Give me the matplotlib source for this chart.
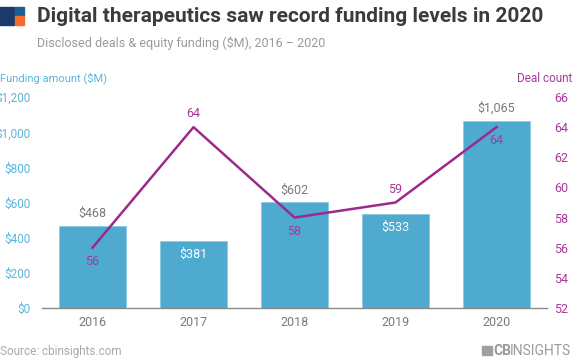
import matplotlib
matplotlib.use("Agg")
import matplotlib.pyplot as plt
from matplotlib.patches import Rectangle

years = ["2016", "2017", "2018", "2019", "2020"]
funding = [468, 381, 602, 533, 1065]
deals = [56, 64, 58, 59, 64]
funding_labels = ["$468", "$381", "$602", "$533", "$1,065"]
left_ticks = [0, 200, 400, 600, 800, 1000, 1200]
left_ticklabels = ["$0", "$200", "$400", "$600", "$800", "$1,000", "$1,200"]
right_ticks = [52, 54, 56, 58, 60, 62, 64, 66]

BAR = "#4EAACF"
LINE = "#9C2A8D"
LBLUE = "#5BB5DA"
MAG = "#A8399A"
GRAY = "#7a7a7a"

plt.rcParams['font.family'] = ['Roboto', 'DejaVu Sans']

fig = plt.figure(figsize=(5.72, 3.64), dpi=100)
W, H = 572, 364
ax = fig.add_axes([42 / W, 1 - 308 / H, 505 / W, 211 / H])
x = list(range(len(years)))
ax.bar(x, funding, width=0.66, color=BAR, edgecolor="#8FCBE3", linewidth=0.6, zorder=2)
ax.set_xlim(-0.5, 4.5)
ax.set_ylim(0, 1200)
ax.set_yticks(left_ticks)
ax.set_yticklabels(left_ticklabels)
ax.set_xticks(x)
ax.set_xticklabels(years)
for s in ["top", "right", "left"]:
    ax.spines[s].set_visible(False)
ax.spines["bottom"].set_color("#8a8a8a")
ax.spines["bottom"].set_linewidth(1.0)
ax.tick_params(axis="y", length=0, labelcolor=LBLUE, labelsize=8.5, pad=8.5)
ax.tick_params(axis="x", length=0, labelcolor=GRAY, labelsize=9, pad=6)

inside = [False, True, False, True, False]
for xi, v, lab, ins in zip(x, funding, funding_labels, inside):
    if ins:
        ax.annotate(lab, (xi, v), xytext=(0, -5), textcoords="offset points",
                    ha="center", va="top", color="white", fontsize=9)
    else:
        ax.annotate(lab, (xi, v), xytext=(0, 4), textcoords="offset points",
                    ha="center", va="bottom", color=GRAY, fontsize=9)

ax2 = ax.twinx()
ax2.set_ylim(52, 66)
ax2.set_yticks(right_ticks)
ax2.plot(x, deals, color=LINE, linewidth=1.8, zorder=3)
for s in ["top", "right", "left", "bottom"]:
    ax2.spines[s].set_visible(False)
ax2.tick_params(axis="y", length=0, labelcolor=MAG, labelsize=9, pad=5)
above = [False, True, False, True, False]
for xi, v, ab in zip(x, deals, above):
    if ab:
        ax2.annotate(str(v), (xi, v), xytext=(0, 5), textcoords="offset points",
                     ha="center", va="bottom", color=MAG, fontsize=9)
    else:
        ax2.annotate(str(v), (xi, v), xytext=(0, -5), textcoords="offset points",
                     ha="center", va="top", color=MAG, fontsize=9)

# header
fig.text(37 / W, 1 - 16 / H, "Digital therapeutics saw record funding levels in 2020",
         fontsize=15, fontweight="bold", color="#3b3b3b", va="center", ha="left")
fig.text(37 / W, 1 - 43 / H, "Disclosed deals & equity funding ($M), 2016 \u2013 2020",
         fontsize=9, color="#9a9a9a", va="center", ha="left")
# logo
fig.patches.append(Rectangle((0 / W, 1 - 25 / H), 14 / W, 18 / H, transform=fig.transFigure,
                             color="#1B3A6B", zorder=5))
fig.patches.append(Rectangle((15 / W, 1 - 15 / H), 9 / W, 8 / H, transform=fig.transFigure,
                             color="#1E5C96", zorder=5))
fig.patches.append(Rectangle((15 / W, 1 - 25 / H), 9 / W, 9 / H, transform=fig.transFigure,
                             color="#F26B2F", zorder=5))

fig.text(0 / W, 1 - 78 / H, "Funding amount ($M)", fontsize=8, color=LBLUE, va="center", ha="left")
fig.text(572 / W, 1 - 78 / H, "Deal count", fontsize=8.5, color=MAG, va="center", ha="right")

fig.text(0 / W, 1 - 351 / H, "Source: cbinsights.com", fontsize=8.5, color="#aaaaaa", va="center", ha="left")
# CB Insights wordmark
fig.patches.append(Rectangle((482 / W, 1 - 355 / H), 10 / W, 9 / H, transform=fig.transFigure,
                             color="#a0a0a0", zorder=5))
fig.text(493 / W, 1 - 351 / H, "CB", fontsize=10, color="#9a9a9a", fontweight="bold",
         va="center", ha="left")
fig.text(571 / W, 1 - 351 / H, "INSIGHTS", fontsize=10, color="#9a9a9a",
         va="center", ha="right")

fig.savefig("out.png", dpi=100)
